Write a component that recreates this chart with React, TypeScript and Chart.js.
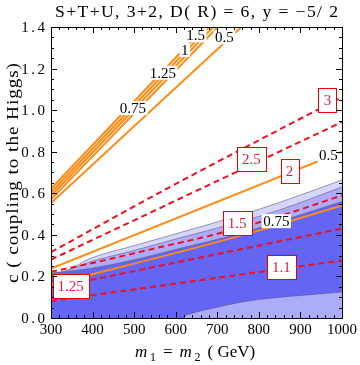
import React, { useEffect, useRef } from "react";
import { Chart, registerables } from "chart.js";

Chart.register(...registerables);

// ---- axes ----
const xMin = 300;
const xMax = 1000;
const yMin = 0;
const yMax = 1.4;
const xMajorStep = 100;
const xMinorStep = 20;
const yMajorStep = 0.2;
const yMinorStep = 0.05;

// ---- shaded regions (upper boundaries) ----
const regionLight: [number, number][] = [
  [300, 0.215], [335, 0.226], [394, 0.286], [500, 0.348], [600, 0.405], [754, 0.494], [850, 0.556], [1000, 0.664],
];
const regionMedium: [number, number][] = [
  [300, 0.215], [335, 0.226], [394, 0.27], [500, 0.325], [600, 0.38], [754, 0.462], [850, 0.52], [1000, 0.63],
];
const regionDark: [number, number][] = [
  [300, 0.213], [335, 0.222], [394, 0.238], [500, 0.28], [600, 0.33], [754, 0.406], [850, 0.465], [1000, 0.56],
];
const regionCorner: [number, number][] = [
  [617, 0], [622, 0.01], [635, 0.02], [650, 0.029], [700, 0.052], [754, 0.075], [800, 0.089], [874, 0.104], [1000, 0.125],
];

// ---- orange (solid) contours ----
const orange15: [number, number][] = [[300, 0.622], [670, 1.4]];
const orange10: [number, number][] = [[300, 0.605], [680, 1.4]];
const orange125: [number, number][] = [[300, 0.588], [690, 1.4]];
const orange075top: [number, number][] = [[300, 0.571], [701, 1.4]];
const orange05top: [number, number][] = [[300, 0.553], [758, 1.4]];
const orange05low: [number, number][] = [[300, 0.238], [1000, 0.8]];
const orange075low: [number, number][] = [[300, 0.16], [754, 0.395], [1000, 0.542]];

// ---- red (dashed) contours ----
const red30: [number, number][] = [[300, 0.317], [600, 0.645], [1000, 1.063]];
const red25: [number, number][] = [[300, 0.281], [1000, 0.943]];
const red15: [number, number][] = [[300, 0.222], [400, 0.265], [550, 0.335], [700, 0.405], [850, 0.49], [1000, 0.59]];
const red125: [number, number][] = [[300, 0.144], [1000, 0.43]];
const red11: [number, number][] = [[300, 0.082], [1000, 0.277]];

// ---- contour labels ----
const orangeLabelText = ["1.5", "1", "1.25", "0.75", "0.5", "0.5", "0.75"];
const orangeLabelX = [648, 622, 569, 497, 717, 967, 842];
const orangeLabelY = [1.36, 1.29, 1.18, 1.01, 1.35, 0.782, 0.466];

const redLabelText = ["3", "2.5", "2", "1.5", "1.25", "1.1"];
const redLabelX = [965, 782, 874, 748, 347, 854];
const redLabelY = [1.05, 0.765, 0.706, 0.458, 0.155, 0.245];

const titleText = "S+T+U, 3+2, D( R) = 6, y = \u22125/ 2";
const yTitleText = "c ( coupling to the Higgs)";

const COL_DARK = "rgb(100,100,245)";
const COL_MED = "rgb(172,172,250)";
const COL_LIGHT = "rgb(214,214,250)";
const COL_ORANGE = "rgb(255,138,20)";
const COL_RED = "rgb(238,16,30)";
const SERIF = '"Liberation Serif", "DejaVu Serif", serif';

const pts = (a: [number, number][]) => a.map(([x, y]) => ({ x, y }));

// draw text from (x, y) along the current x direction, widened by a stretch and
// then by letter spacing so that it spans the target width
function drawFitted(ctx: any, text: string, x: number, y: number, target: number, stretch: number) {
  ctx.save();
  ctx.translate(x, y);
  ctx.scale(stretch, 1);
  ctx.letterSpacing = "0px";
  const w = ctx.measureText(text).width * stretch;
  const ls = Math.max(0, (target - w) / Math.max(1, text.length - 1)) / stretch;
  ctx.letterSpacing = `${ls}px`;
  ctx.textAlign = "left";
  ctx.fillText(text, 0, 0);
  ctx.restore();
}

const decorPlugin = {
  id: "decor",
  afterDatasetsDraw(chart: any) {
    const { ctx, scales } = chart;
    const xs = scales.x;
    const ys = scales.y;
    ctx.save();
    ctx.font = `15px ${SERIF}`;
    ctx.textAlign = "center";
    ctx.textBaseline = "middle";
    for (let i = 0; i < orangeLabelText.length; i++) {
      const px = xs.getPixelForValue(orangeLabelX[i]);
      const py = ys.getPixelForValue(orangeLabelY[i]);
      const w = ctx.measureText(orangeLabelText[i]).width + 3;
      ctx.fillStyle = "white";
      ctx.fillRect(px - w / 2, py - 7, w, 14);
      ctx.fillStyle = "black";
      ctx.fillText(orangeLabelText[i], px, py + 1);
    }
    for (let i = 0; i < redLabelText.length; i++) {
      const px = xs.getPixelForValue(redLabelX[i]);
      const py = ys.getPixelForValue(redLabelY[i]);
      const w = Math.round(ctx.measureText(redLabelText[i]).width + 10);
      const h = 24;
      const left = Math.round(px - w / 2) + 0.5;
      const top = Math.round(py - h / 2) + 0.5;
      ctx.fillStyle = "white";
      ctx.fillRect(left, top, w, h);
      ctx.strokeStyle = "rgb(230,0,0)";
      ctx.lineWidth = 1;
      ctx.strokeRect(left, top, w, h);
      ctx.fillStyle = "rgb(232,30,60)";
      ctx.fillText(redLabelText[i], px, py + 1);
    }
    ctx.restore();
  },
  afterDraw(chart: any) {
    const { ctx, chartArea: a, scales } = chart;
    const xs = scales.x;
    const ys = scales.y;
    ctx.save();
    // frame
    ctx.strokeStyle = "black";
    ctx.lineWidth = 1;
    ctx.strokeRect(Math.round(a.left) + 0.5, Math.round(a.top) + 0.5, Math.round(a.right - a.left), Math.round(a.bottom - a.top));
    // ticks
    ctx.beginPath();
    const nx = Math.round((xMax - xMin) / xMinorStep);
    const xr = Math.round(xMajorStep / xMinorStep);
    for (let i = 0; i <= nx; i++) {
      const v = xMin + i * xMinorStep;
      const len = i % xr === 0 ? 6 : 3;
      const px = Math.round(xs.getPixelForValue(v)) + 0.5;
      ctx.moveTo(px, a.bottom);
      ctx.lineTo(px, a.bottom - len);
      ctx.moveTo(px, a.top);
      ctx.lineTo(px, a.top + len);
    }
    const ny = Math.round((yMax - yMin) / yMinorStep);
    const yr = Math.round(yMajorStep / yMinorStep);
    for (let i = 0; i <= ny; i++) {
      const v = yMin + i * yMinorStep;
      const len = i % yr === 0 ? 6 : 3;
      const py = Math.round(ys.getPixelForValue(v)) + 0.5;
      ctx.moveTo(a.left, py);
      ctx.lineTo(a.left + len, py);
      ctx.moveTo(a.right, py);
      ctx.lineTo(a.right - len, py);
    }
    ctx.stroke();

    ctx.fillStyle = "black";
    ctx.textBaseline = "alphabetic";

    // y tick labels (wide-spaced like the original)
    ctx.font = `15px ${SERIF}`;
    const nyMaj = Math.round((yMax - yMin) / yMajorStep);
    for (let i = 0; i <= nyMaj; i++) {
      const v = yMin + i * yMajorStep;
      const s = v.toFixed(1);
      ctx.letterSpacing = "2.5px";
      const w = ctx.measureText(s).width - 2.5;
      ctx.textAlign = "left";
      ctx.fillText(s, a.left - 6 - w, ys.getPixelForValue(v) + 5);
      ctx.letterSpacing = "0px";
    }

    // title
    ctx.font = `16px ${SERIF}`;
    drawFitted(ctx, titleText, 55, 17, 283, 1.1);

    // y title
    ctx.save();
    ctx.translate(18, 283);
    ctx.rotate(-Math.PI / 2);
    ctx.font = `16px ${SERIF}`;
    drawFitted(ctx, yTitleText, 0, 0, 220, 1.2);
    ctx.restore();

    // x title: m1 = m2 ( GeV)
    const parts: { t: string; f: string; dy: number }[] = [
      { t: "m", f: `italic 17px ${SERIF}`, dy: 0 },
      { t: "1", f: `12px ${SERIF}`, dy: 4 },
      { t: " = ", f: `17px ${SERIF}`, dy: 0 },
      { t: "m", f: `italic 17px ${SERIF}`, dy: 0 },
      { t: "2", f: `12px ${SERIF}`, dy: 4 },
      { t: " ( GeV)", f: `17px ${SERIF}`, dy: 0 },
    ];
    let total = 0;
    for (const p of parts) {
      ctx.font = p.f;
      total += ctx.measureText(p.t).width;
    }
    const target = 123;
    const gap = (target - total) / 6;
    let cx = 135;
    ctx.textAlign = "left";
    for (const p of parts) {
      ctx.font = p.f;
      ctx.fillText(p.t, cx, 357 + p.dy);
      cx += ctx.measureText(p.t).width + gap;
    }
    ctx.restore();
  },
};

export default function App() {
  const ref = useRef<HTMLCanvasElement | null>(null);
  useEffect(() => {
    if (!ref.current) return;
    const region = (data: [number, number][], color: string, order: number) => ({
      data: pts(data),
      borderColor: "rgba(95,95,140,0.8)",
      borderWidth: 0.8,
      backgroundColor: color,
      fill: "start",
      pointRadius: 0,
      cubicInterpolationMode: "monotone",
      order,
    });
    const solid = (data: [number, number][]) => ({
      data: pts(data),
      borderColor: COL_ORANGE,
      borderWidth: 2,
      fill: false,
      pointRadius: 0,
      cubicInterpolationMode: "monotone",
      order: 1,
    });
    const dashed = (data: [number, number][]) => ({
      data: pts(data),
      borderColor: COL_RED,
      borderWidth: 2,
      borderDash: [6, 4],
      fill: false,
      pointRadius: 0,
      cubicInterpolationMode: "monotone",
      order: 2,
    });
    const chart = new Chart(ref.current, {
      type: "line",
      data: {
        datasets: [
          region(regionLight, COL_LIGHT, 13),
          region(regionMedium, COL_MED, 12),
          region(regionDark, COL_DARK, 11),
          region(regionCorner, COL_MED, 10),
          dashed(red30),
          dashed(red25),
          dashed(red15),
          dashed(red125),
          dashed(red11),
          solid(orange15),
          solid(orange10),
          solid(orange125),
          solid(orange075top),
          solid(orange05top),
          solid(orange05low),
          solid(orange075low),
        ] as any,
      },
      options: {
        animation: false,
        responsive: false,
        events: [],
        layout: { padding: { top: 27, right: 17, left: 0, bottom: 0 } },
        plugins: { legend: { display: false }, tooltip: { enabled: false }, title: { display: false } },
        scales: {
          x: {
            type: "linear",
            min: xMin,
            max: xMax,
            afterFit: (s: any) => {
              s.height = 47;
            },
            grid: { display: false, drawTicks: false },
            border: { display: false },
            ticks: {
              stepSize: xMajorStep,
              padding: 3,
              color: "black",
              font: { family: SERIF, size: 15 },
              maxRotation: 0,
              autoSkip: false,
              callback: (v: any) => String(v),
            },
          },
          y: {
            type: "linear",
            min: yMin,
            max: yMax,
            afterFit: (s: any) => {
              s.width = 51;
            },
            grid: { display: false, drawTicks: false },
            border: { display: false },
            ticks: {
              stepSize: yMajorStep,
              display: false,
            },
          },
        },
      },
      plugins: [decorPlugin],
    } as any);
    return () => chart.destroy();
  }, []);
  return (
    <div style={{ position: "fixed", left: 0, top: 0, width: 360, height: 365, background: "white" }}>
      <canvas ref={ref} width={360} height={365} />
    </div>
  );
}
